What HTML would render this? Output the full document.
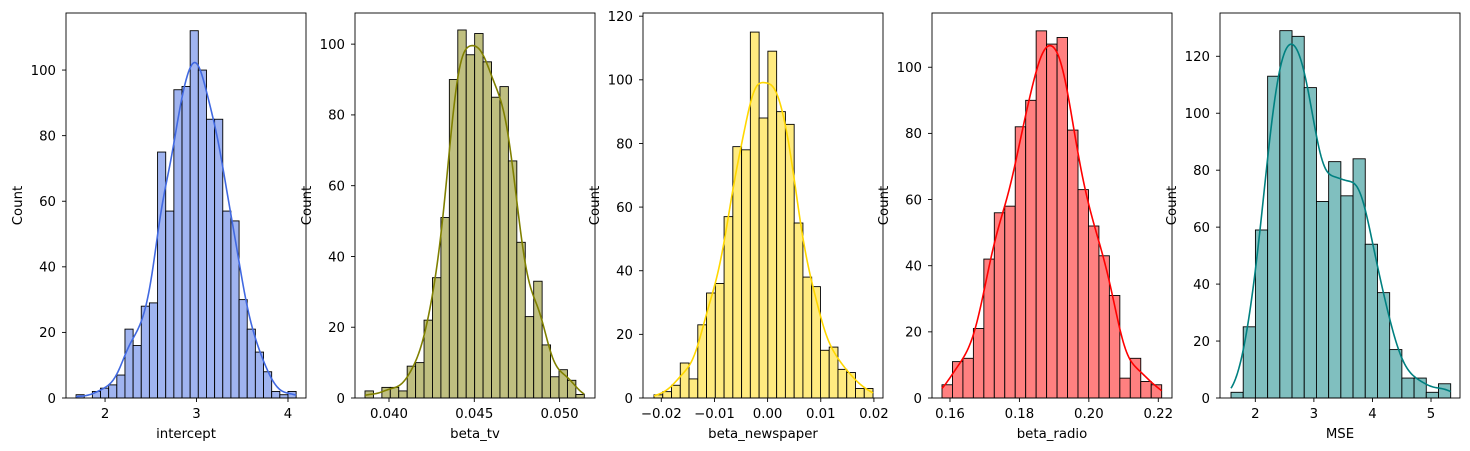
<!DOCTYPE html>
<html><head><meta charset="utf-8">
<style>
html,body{margin:0;padding:0;background:#fff;}
svg{display:block;font-family:"DejaVu Sans","Liberation Sans",sans-serif;}
</style></head>
<body>
<svg id="fig" width="1470" height="451" viewBox="0 0 1470 451"></svg>
<script>
// ---- data ----
const interceptCounts = [1,0,2,3,4,7,21,16,28,29,75,57,94,95,112,100,85,85,57,54,30,21,14,8,2,1,2];
const interceptRange = [1.683, 4.089];
const interceptTicksX = [2,3,4];
const interceptTicksY = [0,20,40,60,80,100];

const betaTvCounts = [2,0,3,3,2,9,10,22,34,51,90,104,97,103,95,85,88,67,44,23,33,15,6,8,5,1];
const betaTvRange = [0.038593, 0.051448];
const betaTvTicksX = [0.040,0.045,0.050];
const betaTvTicksY = [0,20,40,60,80,100];

const betaNewsCounts = [1,2,4,11,6,23,33,36,57,79,78,115,88,109,90,86,55,38,35,15,16,9,8,3,3];
const betaNewsRange = [-0.021372, 0.019831];
const betaNewsTicksX = [-0.02,-0.01,0.00,0.01,0.02];
const betaNewsTicksY = [0,20,40,60,80,100,120];

const betaRadioCounts = [4,11,12,21,42,56,58,82,90,111,107,109,81,63,52,43,31,6,12,5,4];
const betaRadioRange = [0.15770, 0.22098];
const betaRadioTicksX = [0.16,0.18,0.20,0.22];
const betaRadioTicksY = [0,20,40,60,80,100];

const mseCounts = [2,25,59,113,129,127,109,69,83,71,84,54,37,17,7,7,2,5];
const mseRange = [1.585, 5.336];
const mseTicksX = [2,3,4,5];
const mseTicksY = [0,20,40,60,80,100,120];

const panels = [
 {name:'intercept', counts:interceptCounts, range:interceptRange, tx:interceptTicksX, ty:interceptTicksY, tfmt:v=>String(v),
  px:[66,306], dom:[1.573,4.197], ymax:117.4, fill:'#a0b4f0', line:'#4169e1', label:'intercept'},
 {name:'beta-tv', counts:betaTvCounts, range:betaTvRange, tx:betaTvTicksX, ty:betaTvTicksY, tfmt:v=>v.toFixed(3),
  px:[355,595], dom:[0.038007,0.052075], ymax:108.8, fill:'#bfbf80', line:'#808000', label:'beta_tv'},
 {name:'beta-newspaper', counts:betaNewsCounts, range:betaNewsRange, tx:betaNewsTicksX, ty:betaNewsTicksY, tfmt:v=>(v<0?'\u2212':'')+Math.abs(v).toFixed(2),
  px:[643,883], dom:[-0.02344,0.02171], ymax:121, fill:'#ffeb80', line:'#ffd700', label:'beta_newspaper'},
 {name:'beta-radio', counts:betaRadioCounts, range:betaRadioRange, tx:betaRadioTicksX, ty:betaRadioTicksY, tfmt:v=>v.toFixed(2),
  px:[932,1172], dom:[0.15482,0.22395], ymax:116.4, fill:'#ff8080', line:'#ff0000', label:'beta_radio'},
 {name:'mse', counts:mseCounts, range:mseRange, tx:mseTicksX, ty:mseTicksY, tfmt:v=>String(v),
  px:[1220,1460], dom:[1.397,5.495], ymax:135.2, fill:'#80bfbf', line:'#008080', label:'MSE'}
];

const NS='http://www.w3.org/2000/svg';
const svg=document.getElementById('fig');
function mk(tag,attrs,parent){const e=document.createElementNS(NS,tag);for(const k in attrs)e.setAttribute(k,attrs[k]);(parent||svg).appendChild(e);return e;}
const TOP=13, BOT=398, FS=13.3;

panels.forEach(p=>{
  const g=mk('g',{});
  
  
  const xs=v=>p.px[0]+(v-p.dom[0])/(p.dom[1]-p.dom[0])*(p.px[1]-p.px[0]);
  const ys=v=>BOT-v/p.ymax*(BOT-TOP);
  const n=p.counts.length, bw=(p.range[1]-p.range[0])/n;
  p.counts.forEach((c,i)=>{
    if(c<=0) return;
    const x0=xs(p.range[0]+i*bw), x1=xs(p.range[0]+(i+1)*bw);
    const r=mk('rect',{x:x0,y:ys(c),width:x1-x0,height:BOT-ys(c),fill:p.fill,stroke:'#000','stroke-width':0.9},g);
    
    
  });
  let N=0,mean=0; p.counts.forEach((c,i)=>{const m=p.range[0]+(i+.5)*bw;N+=c;mean+=c*m;}); mean/=N;
  let vr=0; p.counts.forEach((c,i)=>{const m=p.range[0]+(i+.5)*bw;vr+=c*(m-mean)*(m-mean);}); vr/=N;
  const h=Math.sqrt(vr)*Math.pow(N,-0.2);
  let d='';
  for(let k=0;k<=200;k++){
    const x=p.range[0]+(p.range[1]-p.range[0])*k/200;
    let dens=0;
    p.counts.forEach((c,i)=>{const m=p.range[0]+(i+.5)*bw;const z=(x-m)/h;dens+=c*Math.exp(-0.5*z*z);});
    dens=dens/(h*Math.sqrt(2*Math.PI))*bw;
    d+=(k?'L':'M')+xs(x).toFixed(2)+','+ys(dens).toFixed(2);
  }
  const kde=mk('path',{d:d,fill:'none',stroke:p.line,'stroke-width':1.6},g);
  
  
  const fr=mk('rect',{x:p.px[0],y:TOP,width:p.px[1]-p.px[0],height:BOT-TOP,fill:'none',stroke:'#000','stroke-width':0.9},g);
  
  
  p.tx.forEach(v=>{
    const x=xs(v);
    mk('line',{x1:x,x2:x,y1:BOT,y2:BOT+4,stroke:'#000','stroke-width':0.9},g);
    const t=mk('text',{x:x,y:BOT+20,'font-size':FS,'text-anchor':'middle',fill:'#000'},g);
    t.textContent=p.tfmt(v);
    
    
  });
  p.ty.forEach(v=>{
    const y=ys(v);
    mk('line',{x1:p.px[0]-4,x2:p.px[0],y1:y,y2:y,stroke:'#000','stroke-width':0.9},g);
    const t=mk('text',{x:p.px[0]-10,y:y+4.8,'font-size':FS,'text-anchor':'end',fill:'#000'},g);
    t.textContent=String(v);
    
    
  });
  const xl=mk('text',{x:(p.px[0]+p.px[1])/2,y:438,'font-size':FS,'text-anchor':'middle',fill:'#000'},g);
  xl.textContent=p.label;
  
  
  const cx=p.px[0]-44, cy=(TOP+BOT)/2;
  const yl=mk('text',{x:cx,y:cy,'font-size':FS,'text-anchor':'middle',fill:'#000',transform:'rotate(-90 '+cx+' '+cy+')'},g);
  yl.textContent='Count';
  
  
});
</script>
</body></html>
